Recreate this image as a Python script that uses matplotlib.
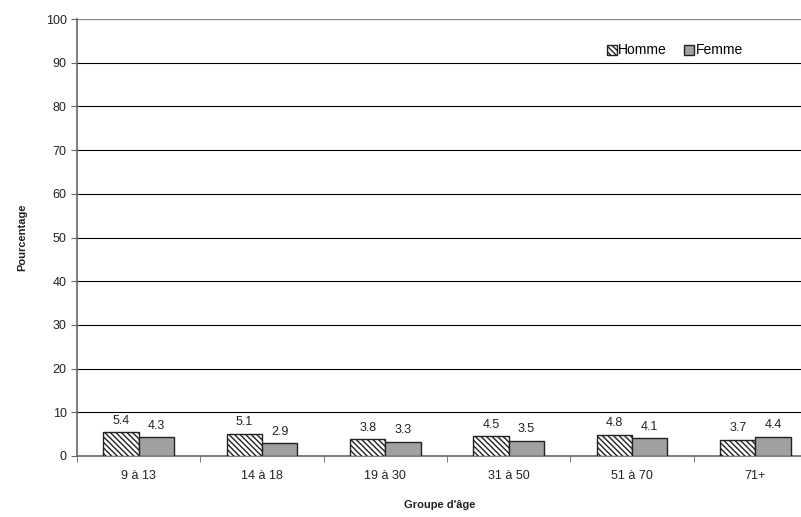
import numpy as np
import matplotlib
matplotlib.use("Agg")
import matplotlib.pyplot as plt

plt.rcParams["font.family"] = ["Liberation Sans", "DejaVu Sans"]
plt.rcParams["hatch.linewidth"] = 1.0
plt.rcParams["hatch.color"] = "#555555"

groups = ["9 à 13", "14 à 18", "19 à 30", "31 à 50", "51 à 70", "71+"]
homme = [5.4, 5.1, 3.8, 4.5, 4.8, 3.7]
femme = [4.3, 2.9, 3.3, 3.5, 4.1, 4.4]
yticks = list(range(0, 101, 10))

fig = plt.figure(figsize=(8.01, 5.17), dpi=100)
# axes runs past the right edge, as in the cropped original
ax = fig.add_axes([77 / 801, 61 / 517, 740 / 801, 437 / 517])

x = np.arange(len(groups))
w = 0.286
b1 = ax.bar(x - w / 2, homme, w, facecolor="white", edgecolor="#222222",
            hatch="\\" * 6, lw=1.0, label="Homme", zorder=3)
b2 = ax.bar(x + w / 2, femme, w, facecolor="#a0a0a0", edgecolor="#222222",
            lw=1.0, label="Femme", zorder=3)

for bars, vals in ((b1, homme), (b2, femme)):
    for r, v in zip(bars, vals):
        ax.annotate(f"{v:.1f}", (r.get_x() + r.get_width() / 2, v),
                    xytext=(0, 4), textcoords="offset points",
                    ha="center", va="bottom", fontsize=9, color="#222222")

ax.set_xlim(-0.5, len(groups) - 0.5)
ax.set_ylim(0, 100)
ax.set_yticks(yticks)
for t in yticks[1:-1]:
    ax.axhline(t, color="black", lw=0.8, zorder=1)
ax.axhline(100, color="#888888", lw=1.0, zorder=1)

ax.set_xticks(x)
ax.set_xticklabels(groups)
ax.set_xticks(np.arange(-0.5, len(groups)), minor=True)
ax.tick_params(axis="x", which="major", length=0, pad=10, labelsize=9,
               colors="#222222")
ax.tick_params(axis="x", which="minor", length=4, direction="out",
               color="#666666")
ax.tick_params(axis="y", length=4, direction="out", labelsize=9,
               color="#666666", labelcolor="#222222")

for s in ("top", "right"):
    ax.spines[s].set_visible(False)
ax.spines["left"].set_color("#666666")
ax.spines["bottom"].set_color("#666666")
ax.spines["left"].set_linewidth(1.2)
ax.spines["bottom"].set_linewidth(1.2)

fig.text(22 / 801, 1 - 237 / 517, "Pourcentage", rotation=90, ha="center",
         va="center", fontsize=8, fontweight="bold", color="#222222")
fig.text(440 / 801, 1 - 505 / 517, "Groupe d'âge", ha="center", va="center",
         fontsize=8, fontweight="bold", color="#222222")

leg = ax.legend(loc="upper left", bbox_to_anchor=(517 / 740, 1 - 12 / 437),
                ncol=2, frameon=False, fontsize=10, handlelength=0.75,
                handleheight=0.75, handletextpad=0.1, columnspacing=1.2)

fig.savefig("out.png", dpi=100)
